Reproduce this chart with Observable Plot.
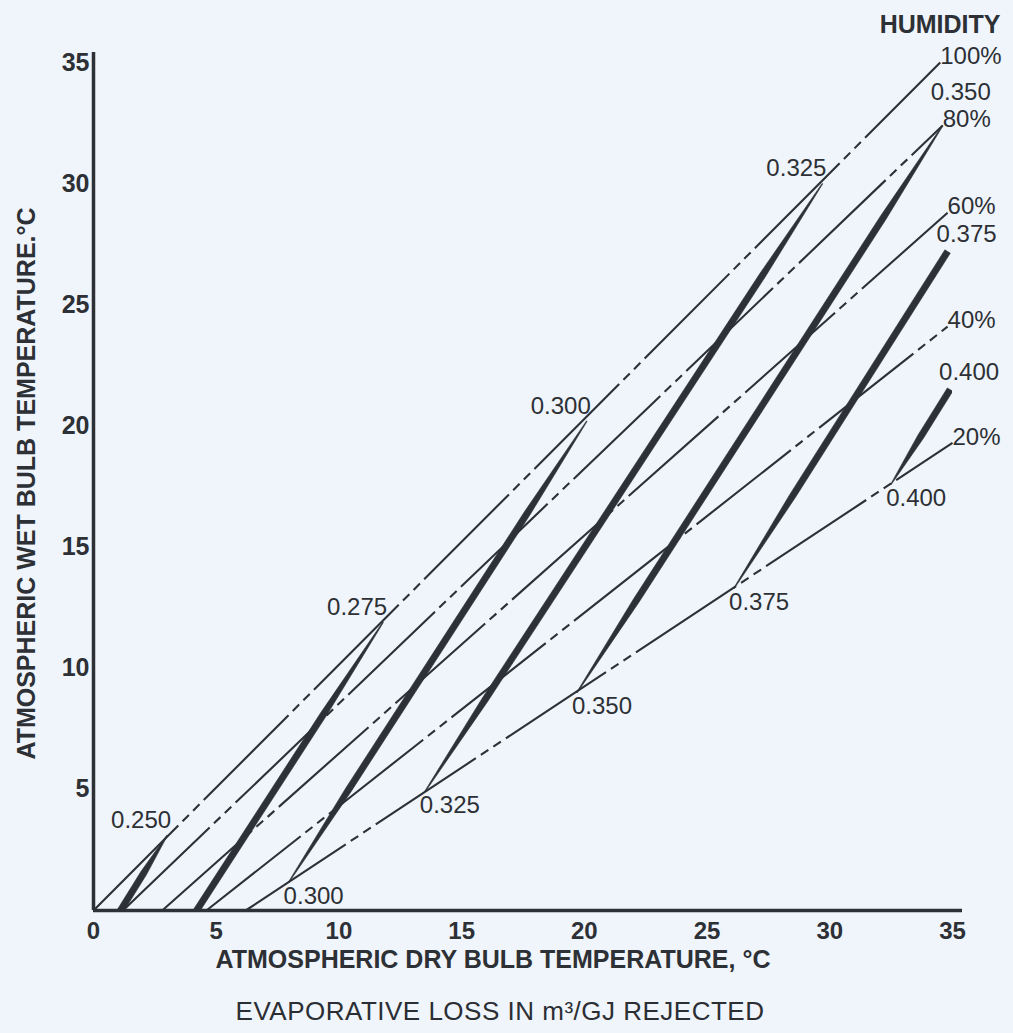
<!DOCTYPE html>
<html>
<head>
<meta charset="utf-8">
<script src="https://cdn.jsdelivr.net/npm/d3@7"></script>
<script src="https://cdn.jsdelivr.net/npm/@observablehq/plot@0.6"></script>
<style>
  html, body { margin: 0; padding: 0; background: #eff5fb; }
  #wrap { position: relative; width: 1013px; height: 1033px; overflow: hidden; }
  #caption {
    position: absolute; left: 0; top: 995px; width: 1000px; text-align: center;
    font-family: "Liberation Sans", Arial, sans-serif; font-size: 26px; line-height: 32px;
    color: #2b2e33; letter-spacing: 0.5px;
  }
</style>
</head>
<body>
<div id="wrap">
  <div id="chart"></div>
  <div id="caption">EVAPORATIVE LOSS IN m³/GJ REJECTED</div>
</div>
<script>
// ---- Data ----
// Relative-humidity lines: start on the x axis (wet bulb 0) and end near the right edge
const humidityLabels   = ["100%", "80%", "60%", "40%", "20%"];
const humidityStartDry = [0, 1.2, 2.8, 4.6, 6.2];
const humidityEndDry   = [34.5, 34.6, 34.8, 34.8, 35];
const humidityEndWet   = [35, 32.4, 28.8, 24.1, 19.3];

// Evaporative-loss contours (m³/GJ): upper and lower end points
const lossLabels = ["0.250", "0.275", "0.300", "0.325", "0.350", "0.375", "0.400"];
const upperDry   = [3.0, 11.8, 20.1, 29.7, 34.6, 34.8, 34.9];
const upperWet   = [3.1, 11.9, 20.2, 30.0, 32.4, 27.2, 21.5];
const lowerDry   = [1.1, 4.2, 7.95, 13.5, 19.7, 26.1, 32.5];
const lowerWet   = [0, 0, 1.16, 4.9, 9.0, 13.3, 17.6];

const xTicks = [0, 5, 10, 15, 20, 25, 30, 35];
const yTicks = [5, 10, 15, 20, 25, 30, 35];

const xTitle = "ATMOSPHERIC DRY BULB TEMPERATURE, °C";
const yTitle = "ATMOSPHERIC WET BULB TEMPERATURE.°C";
const legendTitle = "HUMIDITY";

// ---- Build tables ----
const humidity = humidityLabels.map((label, i) => ({
  label, x1: humidityStartDry[i], y1: 0, x2: humidityEndDry[i], y2: humidityEndWet[i]
}));

const contours = lossLabels.map((label, i) => ({
  label, ux: upperDry[i], uy: upperWet[i], lx: lowerDry[i], ly: lowerWet[i]
}));

// Tapered outline for each contour: pointed where it ends on a humidity line,
// full width where it is cut by the frame edge.
const Wmax = 0.26, Wtip = 0.03, taper = 4.5;
const wedge = [];
for (const c of contours) {
  const ax = c.lx, ay = c.ly, bx = c.ux, by = c.uy;
  const len = Math.hypot(bx - ax, by - ay);
  const ux = (bx - ax) / len, uy = (by - ay) / len;
  const nx = -uy, ny = ux;
  const openA = ay <= 0, openB = bx >= 34.75;
  const t = Math.min(taper, len / 2);
  const sA = openA ? 0 : t, sB = openB ? len : len - t;
  const prof = [[0, openA ? Wmax : Wtip], [sA, Wmax], [sB, Wmax], [len, openB ? Wmax : Wtip]];
  const left = prof.map(([s, w]) => [ax + ux * s + nx * w / 2, ay + uy * s + ny * w / 2]);
  const right = prof.map(([s, w]) => [ax + ux * s - nx * w / 2, ay + uy * s - ny * w / 2]).reverse();
  for (const [x, y] of [...left, ...right]) wedge.push({label: c.label, x, y});
}

const topOnSat = contours.filter(c => c.ux < 34);
const topAtEdgePointed = contours.filter(c => c.ux >= 34 && c.ux < 34.75);
const topAtEdgeOpen = contours.filter(c => c.ux >= 34.75);
const bottoms = contours.filter(c => c.ly > 0);

const ink = "#2d3035";
const font = "'Liberation Sans', Arial, Helvetica, sans-serif";

const chart = Plot.plot({
  width: 1013,
  height: 975,
  marginLeft: 93,
  marginRight: 61,
  marginTop: 62,
  marginBottom: 65,
  x: {domain: [0, 35]},
  y: {domain: [0, 35]},
  style: {background: "transparent", fontFamily: font, color: ink, overflow: "visible"},
  marks: [
    Plot.axisX({ticks: xTicks, tickSize: 0, tickPadding: 11, fontSize: 24, fontWeight: "bold", label: null, tickFormat: d => String(d)}),
    Plot.axisY({ticks: yTicks, tickSize: 0, tickPadding: 4, fontSize: 25, fontWeight: "bold", label: null, tickFormat: d => String(d)}),
    // humidity lines
    Plot.link(humidity, {
      x1: "x1", y1: "y1", x2: "x2", y2: "y2",
      stroke: ink, strokeWidth: 2.1, strokeDasharray: "120,6,9,6,9,6", strokeLinecap: "butt"
    }),
    // evaporative loss contours
    Plot.line(wedge, {x: "x", y: "y", z: "label", fill: ink, stroke: ink, strokeWidth: 0.6, clip: true}),
    // axes lines
    Plot.ruleX([0], {stroke: ink, strokeWidth: 3.5, insetTop: -10}),
    Plot.ruleY([0], {stroke: ink, strokeWidth: 3.5, insetRight: -10}),
    // humidity labels
    Plot.text(humidity, {x: "x2", y: "y2", text: "label", textAnchor: "start", dx: 0, dy: -6, fontSize: 24, fill: ink}),
    // contour labels
    Plot.text(topOnSat, {x: "ux", y: "uy", text: "label", textAnchor: "end", dx: 4, dy: -15, fontSize: 24, fill: ink}),
    Plot.text(topAtEdgePointed, {x: "ux", y: "uy", text: "label", textAnchor: "start", dx: -12, dy: -33, fontSize: 24, fill: ink}),
    Plot.text(topAtEdgeOpen, {x: "ux", y: "uy", text: "label", textAnchor: "start", dx: -11, dy: -17, fontSize: 24, fill: ink}),
    Plot.text(bottoms, {x: "lx", y: "ly", text: "label", textAnchor: "start", dx: -5, dy: 14, fontSize: 24, fill: ink}),
    // titles
    Plot.text([xTitle], {frameAnchor: "bottom", textAnchor: "middle", lineAnchor: "middle", dx: -30, dy: 49, fontSize: 25, fontWeight: "bold", letterSpacing: "1px", fill: ink}),
    Plot.text([yTitle], {frameAnchor: "left", textAnchor: "middle", lineAnchor: "middle", rotate: -90, dx: -67, dy: -3, fontSize: 25, fontWeight: "bold", letterSpacing: "1px", fill: ink}),
    Plot.text([legendTitle], {frameAnchor: "top-right", textAnchor: "end", lineAnchor: "middle", dx: 48, dy: -38, fontSize: 25, fontWeight: "bold", fill: ink})
  ]
});
document.getElementById("chart").append(chart);
</script>
</body>
</html>
